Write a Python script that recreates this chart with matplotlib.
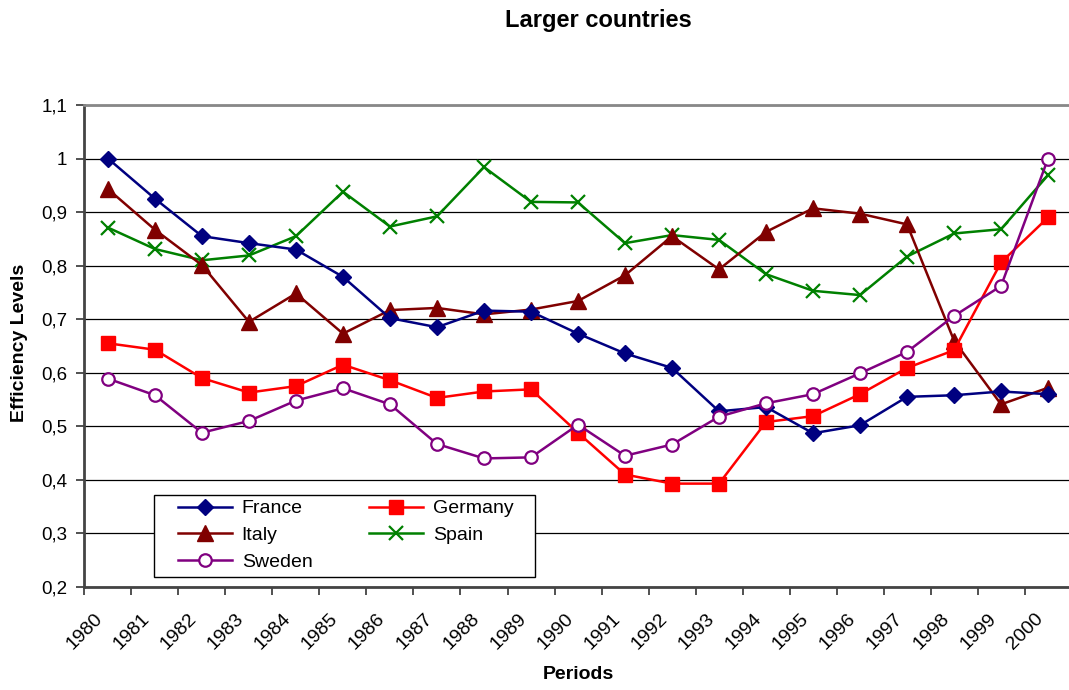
import matplotlib
matplotlib.use("Agg")
import matplotlib.pyplot as plt
from matplotlib.patches import Rectangle
from matplotlib.ticker import FuncFormatter, FixedLocator
from matplotlib.transforms import ScaledTranslation
import numpy as np

plt.rcParams['font.family'] = ['Liberation Sans', 'DejaVu Sans']

# data
years = [str(y) for y in range(1980, 2001)]
france = [1.000, 0.925, 0.855, 0.842, 0.830, 0.779, 0.702, 0.685, 0.716, 0.714, 0.673,
          0.636, 0.609, 0.528, 0.536, 0.487, 0.502, 0.555, 0.558, 0.565, 0.560]
germany = [0.655, 0.643, 0.590, 0.563, 0.575, 0.615, 0.586, 0.553, 0.565, 0.569, 0.488,
           0.410, 0.393, 0.393, 0.508, 0.519, 0.560, 0.609, 0.642, 0.806, 0.890]
italy = [0.943, 0.867, 0.801, 0.695, 0.748, 0.673, 0.717, 0.721, 0.709, 0.718, 0.734,
         0.782, 0.855, 0.793, 0.863, 0.907, 0.897, 0.877, 0.660, 0.541, 0.572]
spain = [0.871, 0.831, 0.810, 0.819, 0.855, 0.938, 0.873, 0.892, 0.984, 0.919, 0.918,
         0.842, 0.857, 0.848, 0.784, 0.753, 0.745, 0.817, 0.860, 0.868, 0.969]
sweden = [0.589, 0.558, 0.488, 0.510, 0.548, 0.571, 0.541, 0.467, 0.440, 0.442, 0.503,
          0.445, 0.466, 0.518, 0.543, 0.560, 0.599, 0.639, 0.706, 0.762, 1.000]
y_ticks = [0.2, 0.3, 0.4, 0.5, 0.6, 0.7, 0.8, 0.9, 1.0, 1.1]

x = np.arange(len(years))

fig = plt.figure(figsize=(10.69, 6.90), dpi=100)
ax = fig.add_axes([0.0790, 0.1493, 0.9234, 0.6986])

lw = 1.8
h_fr, = ax.plot(x, france, color='#000080', lw=lw, marker='D', ms=8.5, label='France', zorder=5)
h_ge, = ax.plot(x, germany, color='#FF0000', lw=lw, marker='s', ms=10, label='Germany', zorder=4)
h_it, = ax.plot(x, italy, color='#800000', lw=lw, marker='^', ms=11, label='Italy', zorder=3)
h_sp, = ax.plot(x, spain, color='#008000', lw=lw, marker='x', ms=10, mew=1.6, label='Spain', zorder=2)
h_sw, = ax.plot(x, sweden, color='#800080', lw=lw, marker='o', ms=9, mfc='white', mew=1.6,
                label='Sweden', zorder=6)

ax.set_xlim(-0.5, len(years) - 0.5)
ax.set_ylim(0.2, 1.1)
ax.set_yticks(y_ticks)
ax.yaxis.set_major_formatter(FuncFormatter(lambda v, p: ('%g' % round(v, 2)).replace('.', ',')))
ax.grid(axis='y', color='black', lw=0.9)
ax.set_axisbelow(True)

# ticks between categories, labels at category centres
ax.xaxis.set_major_locator(FixedLocator(x - 0.5))
ax.xaxis.set_major_formatter(FuncFormatter(lambda v, p: ''))
ax.set_xticks(x, labels=years, minor=True)
ax.tick_params(axis='x', which='major', direction='out', length=6, width=1.2, color='#333333')
ax.tick_params(axis='x', which='minor', length=0, pad=0, labelsize=14)
ax.tick_params(axis='y', direction='out', length=6, width=1.2, color='#333333', labelsize=13.5, pad=6.5)

shift = ScaledTranslation(-7.5 / 100, -29 / 100, fig.dpi_scale_trans)
for tick in ax.xaxis.get_minor_ticks():
    lbl = tick.label1
    lbl.set_rotation(45)
    lbl.set_rotation_mode('anchor')
    lbl.set_ha('right')
    lbl.set_va('center')
    lbl.set_transform(lbl.get_transform() + shift)

for s in ['left', 'bottom']:
    ax.spines[s].set_color('#444444')
    ax.spines[s].set_linewidth(2)
ax.spines['top'].set_color('#888888')
ax.spines['top'].set_linewidth(2)
ax.spines['right'].set_visible(False)

fig.text(0.5594, 0.970, 'Larger countries', ha='center', va='center', fontsize=17, fontweight='bold')
fig.text(0.5415, 0.023, 'Periods', ha='center', va='center', fontsize=14, fontweight='bold')
fig.text(0.018, 0.503, 'Efficiency Levels', ha='center', va='center', rotation=90,
         fontsize=14, fontweight='bold')

leg = ax.legend(handles=[h_fr, h_it, h_sw, h_ge, h_sp], ncol=2, frameon=False,
                loc='upper left', bbox_to_anchor=(0.0947, 0.181), borderaxespad=0,
                borderpad=0, fontsize=14, handlelength=2.78, handletextpad=0.5,
                columnspacing=2.9, labelspacing=0.48)
leg.set_zorder(10)
ax.add_patch(Rectangle((0.0704, 0.021), 0.386, 0.170, transform=ax.transAxes,
                       facecolor='white', edgecolor='black', lw=1.0, zorder=9))

fig.savefig('out.png', dpi=100)
